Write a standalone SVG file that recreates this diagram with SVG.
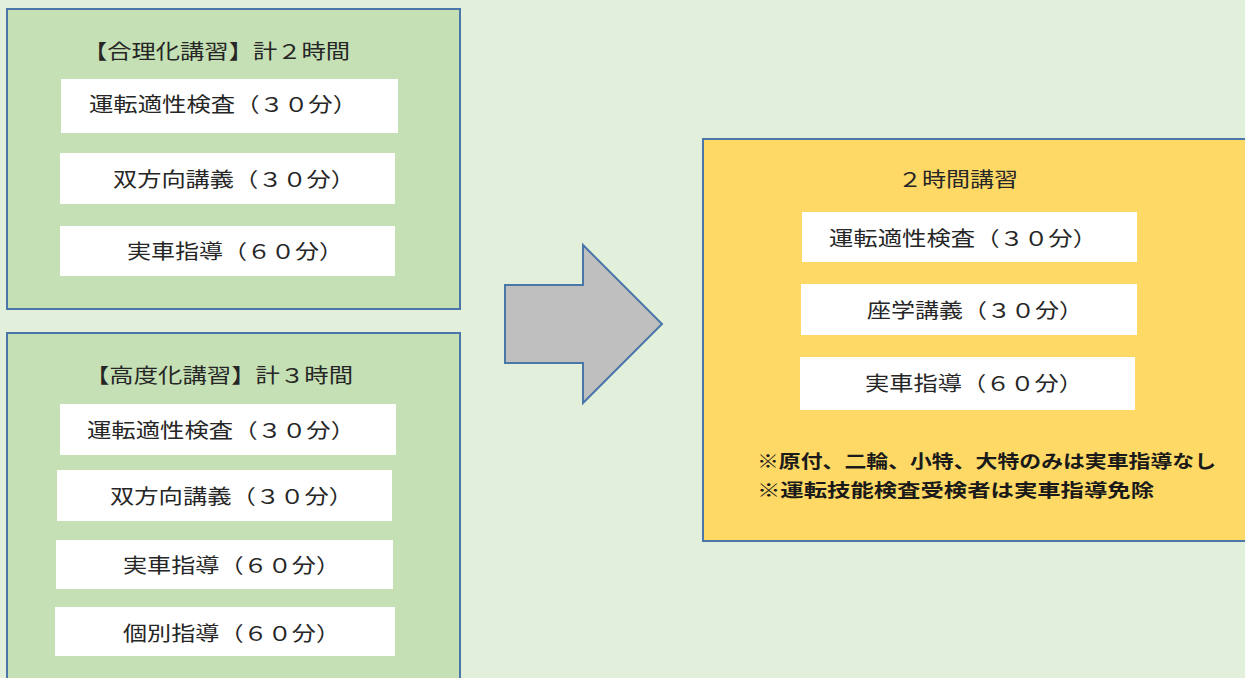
<svg xmlns="http://www.w3.org/2000/svg" width="1245" height="678" viewBox="0 0 1245 678">
<style>
.bg{fill:#E2EFDA}
.grp{fill:#C5E0B4;stroke:#4A76A8;stroke-width:2}
.res{fill:#FFD966;stroke:#4A76A8;stroke-width:2}
.item{fill:#FFFFFF}
.t{font-family:"Noto Sans CJK JP","Noto Sans",sans-serif;font-size:20px;fill:#262626}
.n{font-family:"Noto Sans CJK JP","Noto Sans",sans-serif;font-size:18px;font-weight:bold;fill:#1a1a1a}
.arrow{fill:#BFBFBF;stroke:#4A76A8;stroke-width:2}
</style>
<rect class="bg" x="0" y="0" width="1245" height="678"/>
<g id="rationalized">
<rect class="grp" x="7" y="9" width="453" height="300"/>
<text class="t" x="83" y="59" textLength="267" lengthAdjust="spacingAndGlyphs">【合理化講習】計２時間</text>
<g id="r-aptitude"><rect class="item" x="61" y="79" width="337" height="54"/>
<text class="t" x="89" y="112" textLength="268" lengthAdjust="spacingAndGlyphs">運転適性検査（３０分）</text></g>
<g id="r-lecture"><rect class="item" x="60" y="153" width="335" height="51"/>
<text class="t" x="113" y="187" textLength="242" lengthAdjust="spacingAndGlyphs">双方向講義（３０分）</text></g>
<g id="r-driving"><rect class="item" x="60" y="226" width="335" height="50"/>
<text class="t" x="127" y="259" textLength="216" lengthAdjust="spacingAndGlyphs">実車指導（６０分）</text></g>
</g>
<g id="advanced">
<rect class="grp" x="7" y="333" width="453" height="360"/>
<text class="t" x="85" y="383" textLength="268" lengthAdjust="spacingAndGlyphs">【高度化講習】計３時間</text>
<g id="a-aptitude"><rect class="item" x="60" y="404" width="336" height="51"/>
<text class="t" x="87" y="438" textLength="268" lengthAdjust="spacingAndGlyphs">運転適性検査（３０分）</text></g>
<g id="a-lecture"><rect class="item" x="57" y="470" width="335" height="51"/>
<text class="t" x="110" y="504" textLength="243" lengthAdjust="spacingAndGlyphs">双方向講義（３０分）</text></g>
<g id="a-driving"><rect class="item" x="56" y="540" width="337" height="49"/>
<text class="t" x="123" y="573" textLength="217" lengthAdjust="spacingAndGlyphs">実車指導（６０分）</text></g>
<g id="a-individual"><rect class="item" x="55" y="607" width="340" height="49"/>
<text class="t" x="123" y="641" textLength="217" lengthAdjust="spacingAndGlyphs">個別指導（６０分）</text></g>
</g>
<g id="connectors">
<polygon class="arrow" points="505,285 583,285 583,245 662,324 583,403 583,363 505,363"/>
</g>
<g id="two-hour">
<rect class="res" x="703" y="139" width="550" height="402"/>
<text class="t" x="898" y="187" textLength="120" lengthAdjust="spacingAndGlyphs">２時間講習</text>
<g id="h-aptitude"><rect class="item" x="802" y="212" width="335" height="50"/>
<text class="t" x="829" y="246" textLength="268" lengthAdjust="spacingAndGlyphs">運転適性検査（３０分）</text></g>
<g id="h-lecture"><rect class="item" x="801" y="284" width="336" height="51"/>
<text class="t" x="867" y="318" textLength="216" lengthAdjust="spacingAndGlyphs">座学講義（３０分）</text></g>
<g id="h-driving"><rect class="item" x="800" y="357" width="335" height="53"/>
<text class="t" x="865" y="391" textLength="218" lengthAdjust="spacingAndGlyphs">実車指導（６０分）</text></g>
<text class="n" x="757" y="468" textLength="459" lengthAdjust="spacingAndGlyphs">※原付、二輪、小特、大特のみは実車指導なし</text>
<text class="n" x="757" y="497" textLength="397" lengthAdjust="spacingAndGlyphs">※運転技能検査受検者は実車指導免除</text>
</g>
</svg>
